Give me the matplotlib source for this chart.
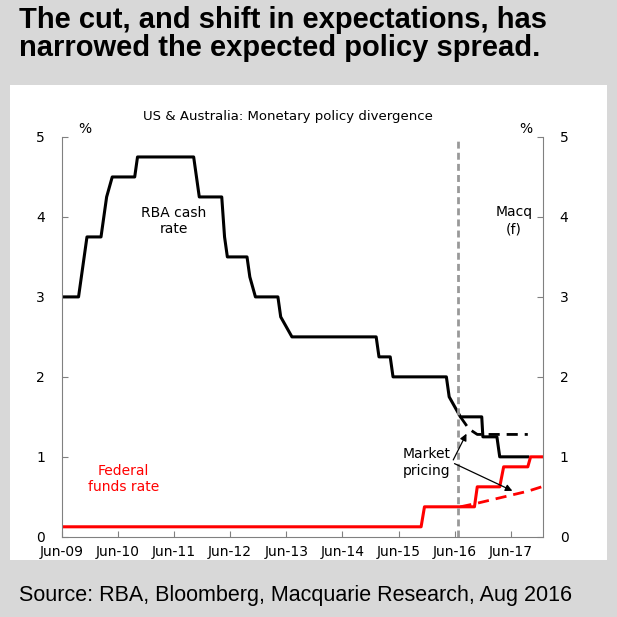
import matplotlib.pyplot as plt
from matplotlib.patches import Rectangle

# decimal years
rba_x = [2009.5, 2009.8, 2009.85, 2009.9, 2009.95, 2010.2, 2010.3, 2010.4, 2010.8, 2010.85,
         2011.85, 2011.9, 2011.95, 2012.35, 2012.4, 2012.45, 2012.8, 2012.85, 2012.95, 2013.35,
         2013.4, 2013.6, 2015.1, 2015.15, 2015.35, 2015.4, 2016.35, 2016.4, 2016.6, 2016.98,
         2017.0, 2017.25, 2017.3, 2017.8]
rba_y = [3.0, 3.0, 3.25, 3.5, 3.75, 3.75, 4.25, 4.5, 4.5, 4.75,
         4.75, 4.5, 4.25, 4.25, 3.75, 3.5, 3.5, 3.25, 3.0, 3.0,
         2.75, 2.5, 2.5, 2.25, 2.25, 2.0, 2.0, 1.75, 1.5, 1.5,
         1.25, 1.25, 1.0, 1.0]
rba_mkt_x = [2016.6, 2016.75, 2016.9, 2017.8]
rba_mkt_y = [1.5, 1.35, 1.28, 1.28]
fed_x = [2009.5, 2015.9, 2015.96, 2016.85, 2016.9, 2017.3, 2017.37, 2017.6, 2017.63, 2017.8, 2017.85, 2018.07]
fed_y = [0.125, 0.125, 0.375, 0.375, 0.625, 0.625, 0.875, 0.875, 0.875, 0.875, 1.0, 1.0]
fed_mkt_x = [2016.6, 2016.9, 2017.2, 2017.5, 2017.8, 2018.07]
fed_mkt_y = [0.375, 0.42, 0.47, 0.52, 0.57, 0.63]
tick_pos = [2009.5 + i for i in range(9)]
tick_lab = ["Jun-%02d" % (9 + i) for i in range(9)]

fig = plt.figure(figsize=(6.17, 6.17), dpi=100)
fig.patch.set_facecolor("#d8d8d8")
fig.patches.append(Rectangle((0.016, 0.092), 0.968, 0.77, transform=fig.transFigure,
                             facecolor="white", edgecolor="none", zorder=-5))
fig.text(0.03, 0.99, "The cut, and shift in expectations, has\nnarrowed the expected policy spread.",
         fontsize=21, fontweight="bold", va="top", ha="left", family="Liberation Sans", linespacing=1.0)
fig.text(0.03, 0.035, "Source: RBA, Bloomberg, Macquarie Research, Aug 2016",
         fontsize=15.5, va="center", ha="left", family="Liberation Sans")

ax = fig.add_axes([0.1, 0.13, 0.78, 0.648])
ax.set_zorder(2)
ax.patch.set_alpha(0)
ax.plot(rba_x, rba_y, color="black", lw=2.2)
ax.plot(rba_mkt_x, rba_mkt_y, color="black", lw=2, ls=(0, (4, 2.5)))
ax.plot(fed_x, fed_y, color="red", lw=2.2)
ax.plot(fed_mkt_x, fed_mkt_y, color="red", lw=2, ls=(0, (4, 2.5)))
ax.axvline(2016.55, color="#999999", lw=2, ls=(0, (2.5, 1.5)))

ax.set_xlim(2009.5, 2018.07)
ax.set_ylim(0, 5)
ax.set_xticks(tick_pos)
ax.set_xticklabels(tick_lab)
ax.set_yticks(range(6))
ax.spines["top"].set_visible(False)
for s in ["left", "right", "bottom"]:
    ax.spines[s].set_color("#808080")
ax.tick_params(axis="both", direction="in", length=4, color="#808080", labelsize=10)
ax.tick_params(axis="x", pad=6)
ax.tick_params(axis="y", right=True, labelright=True, pad=12)
ax.text(2009.8, 5.05, "%", fontsize=10)
ax.text(2017.65, 5.05, "%", fontsize=10)
ax.set_title("US & Australia: Monetary policy divergence", fontsize=9.5, pad=12, x=0.47)
ax.text(2011.5, 3.95, "RBA cash\nrate", ha="center", va="center", fontsize=10)
ax.text(2017.55, 3.95, "Macq\n(f)", ha="center", va="center", fontsize=10, linespacing=1.3)
ax.text(2010.6, 0.72, "Federal\nfunds rate", ha="center", va="center", fontsize=10, color="red")
ax.text(2016.0, 0.93, "Market\npricing", ha="center", va="center", fontsize=10)
for tgt in [(2016.73, 1.32), (2017.57, 0.56)]:
    ax.annotate("", xy=tgt, xytext=(2016.45, 0.93),
                arrowprops=dict(arrowstyle="-|>", color="black", lw=0.9, mutation_scale=10))

fig.savefig("out.png", dpi=100)
